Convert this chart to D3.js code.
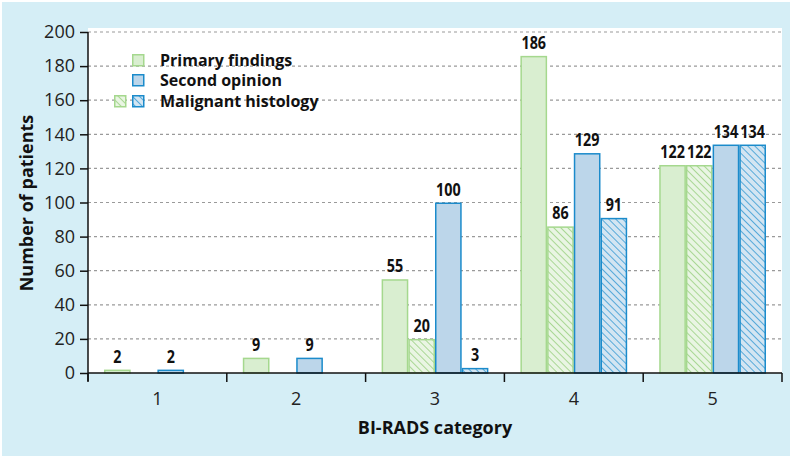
<!DOCTYPE html>
<html><head><meta charset="utf-8">
<script src="https://cdn.jsdelivr.net/npm/d3@7"></script>
<style>body{margin:0;background:#fff}svg{display:block}text{font-family:"Open Sans",sans-serif}</style>
</head><body><svg id="c" width="800" height="461"></svg>
<script>
const categories = ["1","2","3","4","5"];
const primary = [2, 9, 55, 186, 122];
const primaryMalignant = [null, null, 20, 86, 122];
const second = [2, 9, 100, 129, 134];
const secondMalignant = [null, null, 3, 91, 134];
const yTicks = [0,20,40,60,80,100,120,140,160,180,200];
const seriesNames = ["Primary findings","Second opinion","Malignant histology"];

const svg = d3.select("#c");
const m={l:88,r:782,t:32,b:373};
svg.append("rect").attr("x",2).attr("y",2).attr("width",788).attr("height",454).attr("fill","#d5eef6");
svg.append("rect").attr("x",m.l).attr("y",28).attr("width",m.r-m.l).attr("height",m.b-28).attr("fill","#fff");

const defs=svg.append("defs");
function hatch(id,stroke,bg){
  const p=defs.append("pattern").attr("id",id).attr("patternUnits","userSpaceOnUse").attr("width",5).attr("height",5).attr("patternTransform","rotate(-45)");
  p.append("rect").attr("width",5).attr("height",5).attr("fill",bg);
  p.append("line").attr("x1",0).attr("y1",0).attr("x2",0).attr("y2",5).attr("stroke",stroke).attr("stroke-width",1.4);
}
hatch("hg","#8ecb72","#e9f5e3");
hatch("hb","#1f8fcf","#d3e5f2");

const x=d3.scaleBand().domain(categories).range([m.l,m.r]).paddingInner(0).paddingOuter(0);
const y=d3.scaleLinear().domain([0,200]).range([m.b,m.t]);
const keys=["p","pm","s","sm"];
const xs=d3.scaleBand().domain(keys).range([0,x.bandwidth()]).paddingOuter(0.6).paddingInner(0);

// grid
svg.append("g").selectAll("line").data(yTicks.filter(d=>d>0)).join("line")
 .attr("x1",m.l).attr("x2",m.r).attr("y1",d=>y(d)).attr("y2",d=>y(d))
 .attr("stroke","#9a9a9a").attr("stroke-dasharray","3,3").attr("stroke-width",1.2);

const styles={
 p:{fill:"#d9eed0",stroke:"#a5d88e",data:primary},
 pm:{fill:"url(#hg)",stroke:"#a5d88e",data:primaryMalignant},
 s:{fill:"#bcd6ea",stroke:"#1b8bcb",data:second},
 sm:{fill:"url(#hb)",stroke:"#1b8bcb",data:secondMalignant}
};
const rows=[];
keys.forEach(k=>categories.forEach((c,i)=>{const v=styles[k].data[i]; if(v!=null) rows.push({k,c,v});}));
const g=svg.append("g");
g.selectAll("rect").data(rows).join("rect")
 .attr("x",d=>x(d.c)+xs(d.k)+0.75).attr("width",xs.bandwidth()-1.5)
 .attr("y",d=>y(d.v)+0.75).attr("height",d=>Math.max(0,y(0)-y(d.v)-0.75))
 .attr("fill",d=>styles[d.k].fill).attr("stroke",d=>styles[d.k].stroke).attr("stroke-width",1.5);
g.selectAll("text").data(rows).join("text")
 .attr("x",d=>x(d.c)+xs(d.k)+xs.bandwidth()/2).attr("y",d=>y(d.v)-7)
 .attr("text-anchor","middle").attr("font-weight",700).attr("font-size",17).attr("fill","#111")
 .attr("textLength",d=>String(d.v).length*8.2).attr("lengthAdjust","spacingAndGlyphs")
 .text(d=>d.v);

// y axis
const ya=svg.append("g").attr("transform",`translate(${m.l},0)`).call(d3.axisLeft(y).tickValues(yTicks).tickSize(8).tickPadding(5));
ya.select(".domain").attr("d",`M0,${m.t}V${m.b+8}`).attr("stroke","#111").attr("stroke-width",1.5);
ya.selectAll(".tick line").attr("stroke","#111").attr("stroke-width",1.5);
ya.selectAll(".tick text").attr("font-size",18).attr("fill","#222").attr("font-family","'Open Sans',sans-serif");

// x axis
const xa=svg.append("g").attr("transform",`translate(0,${m.b})`);
xa.append("line").attr("x1",m.l).attr("x2",m.r).attr("stroke","#111").attr("stroke-width",1.5);
const bounds=categories.map(c=>x(c)).concat([x(categories[categories.length-1])+x.bandwidth()]);
xa.selectAll("line.t").data(bounds).join("line").attr("class","t").attr("x1",d=>d).attr("x2",d=>d).attr("y1",0).attr("y2",9).attr("stroke","#111").attr("stroke-width",1.5);
xa.selectAll("text.l").data(categories).join("text").attr("class","l").attr("x",d=>x(d)+x.bandwidth()/2).attr("y",32)
 .attr("text-anchor","middle").attr("font-size",18).attr("fill","#222").text(d=>d);

svg.append("text").attr("x",435).attr("y",434).attr("text-anchor","middle").attr("font-weight",700).attr("font-size",18).attr("fill","#111").text("BI-RADS category");
svg.append("text").attr("transform","translate(33,203) rotate(-90)").attr("text-anchor","middle").attr("font-weight",700).attr("font-size",18).attr("fill","#111").text("Number of patients");

// legend
const lg=svg.append("g");
const lrows=[{y:54,boxes:[{x:132,f:"#d9eed0",s:"#a5d88e"}]},{y:74,boxes:[{x:132,f:"#bcd6ea",s:"#1b8bcb"}]},{y:95,boxes:[{x:114,f:"url(#hg)",s:"#a5d88e"},{x:132,f:"url(#hb)",s:"#1b8bcb"}]}];
lrows.forEach((r,i)=>{
  r.boxes.forEach(b=>lg.append("rect").attr("x",b.x+0.75).attr("y",r.y+0.75).attr("width",11).attr("height",11).attr("fill",b.f).attr("stroke",b.s).attr("stroke-width",1.5));
  lg.append("text").attr("x",160).attr("y",r.y+12).attr("font-weight",700).attr("font-size",16).attr("fill","#111").text(seriesNames[i]);
});
</script></body></html>
